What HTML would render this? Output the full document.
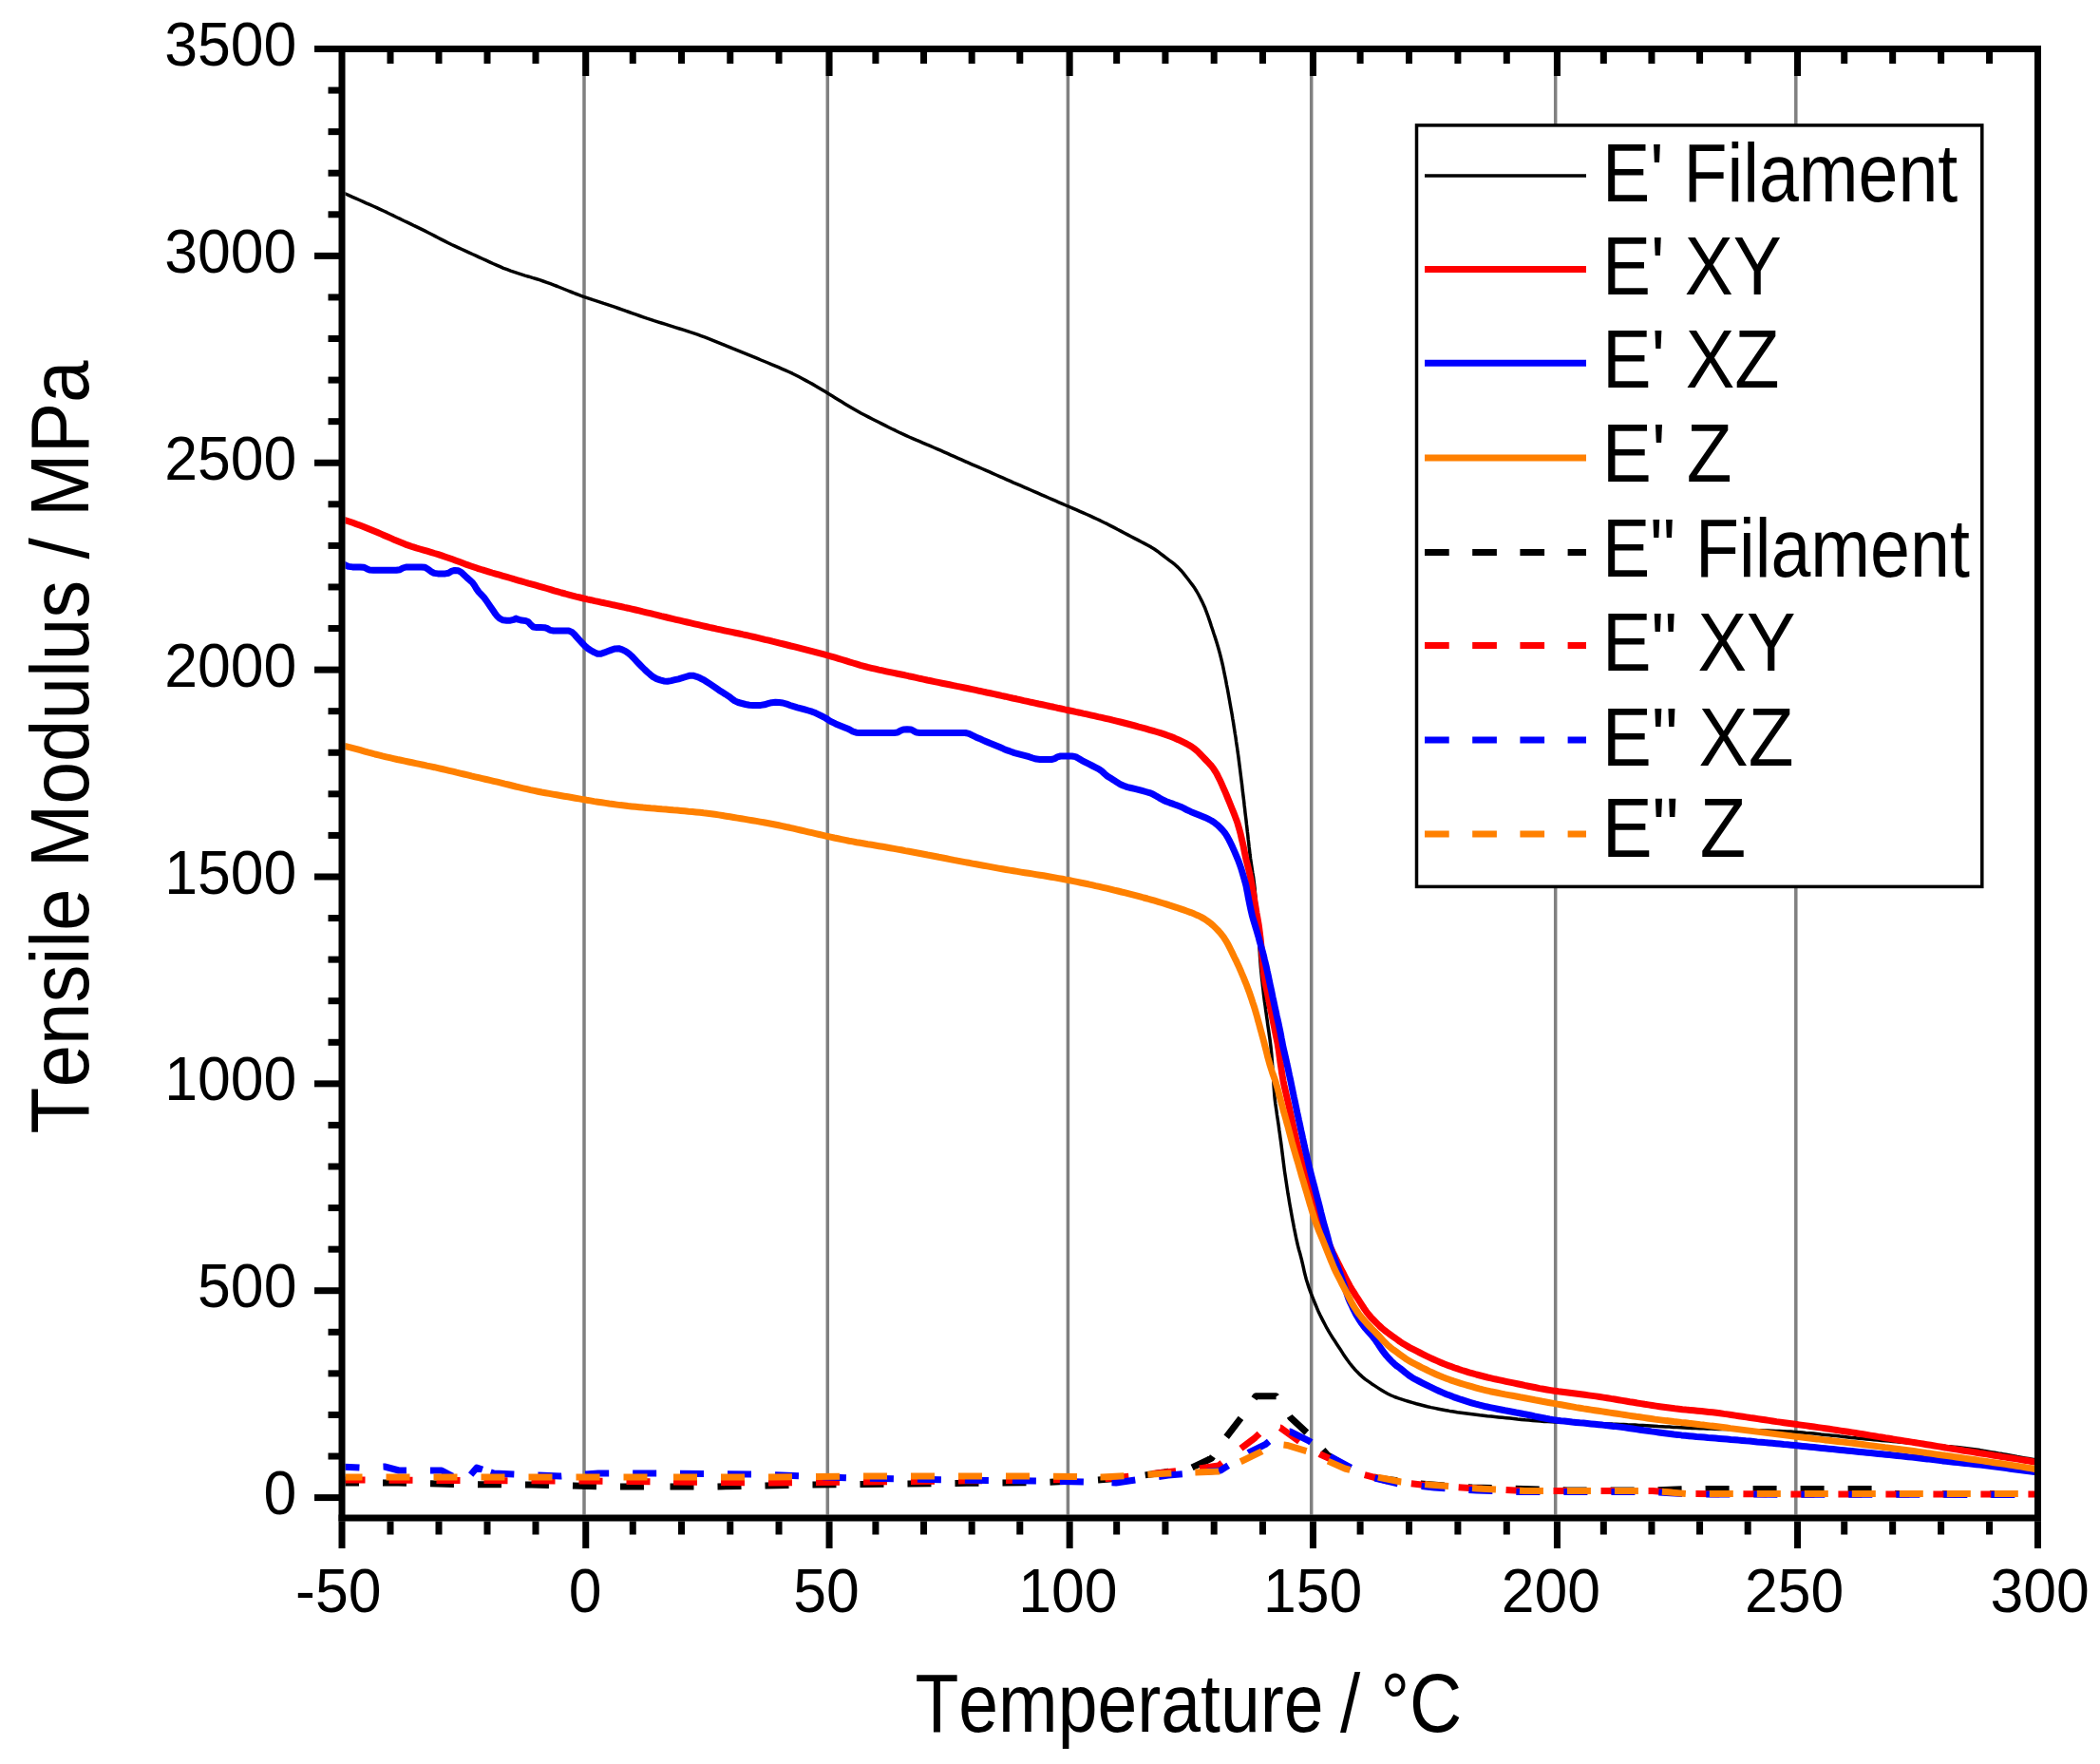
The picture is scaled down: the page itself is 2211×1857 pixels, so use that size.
<!DOCTYPE html>
<html><head><meta charset="utf-8"><title>Tensile Modulus vs Temperature</title>
<style>html,body{margin:0;padding:0;background:#fff;overflow:hidden}svg{display:block}text{font-kerning:none}</style>
</head><body>
<svg width="2211" height="1857" viewBox="0 0 2211 1857">
<rect x="0" y="0" width="2211" height="1857" fill="#fff"/>
<rect x="613.25" y="55" width="3.5" height="1539.5" fill="#808080"/>
<rect x="869.55" y="55" width="3.5" height="1539.5" fill="#808080"/>
<rect x="1122.65" y="55" width="3.5" height="1539.5" fill="#808080"/>
<rect x="1378.95" y="55" width="3.5" height="1539.5" fill="#808080"/>
<rect x="1635.95" y="55" width="3.5" height="1539.5" fill="#808080"/>
<rect x="1889.05" y="55" width="3.5" height="1539.5" fill="#808080"/>
<defs><clipPath id="pc"><rect x="363.5" y="55" width="1778.5" height="1539.5"/></clipPath></defs>
<g clip-path="url(#pc)" fill="none" stroke-linejoin="round" stroke-linecap="butt">
<polyline points="360.0,202.4 363.7,204.0 367.3,205.7 371.0,207.3 374.6,208.9 378.3,210.5 381.9,212.1 385.6,213.8 389.3,215.4 392.9,217.0 396.6,218.6 400.2,220.3 403.8,222.0 407.4,223.7 411.0,225.5 414.6,227.2 418.2,229.0 421.8,230.7 425.4,232.5 429.0,234.2 432.6,235.9 436.2,237.7 439.8,239.4 443.4,241.1 447.0,242.9 450.6,244.7 454.1,246.5 457.7,248.4 461.2,250.2 464.8,252.1 468.3,253.9 471.9,255.7 475.5,257.5 479.1,259.2 482.8,260.9 486.4,262.5 490.0,264.2 493.7,265.8 497.3,267.5 501.0,269.1 504.6,270.8 508.2,272.5 511.9,274.2 515.5,275.8 519.1,277.5 522.8,279.1 526.4,280.7 530.1,282.3 533.9,283.7 537.6,285.1 541.4,286.4 545.2,287.7 549.0,288.9 552.8,290.1 556.7,291.2 560.5,292.4 564.3,293.5 568.1,294.7 571.9,296.0 575.7,297.3 579.5,298.7 583.2,300.1 586.9,301.5 590.6,303.0 594.3,304.5 598.0,306.0 601.8,307.5 605.5,309.0 609.2,310.4 613.0,311.8 616.7,313.1 620.5,314.4 624.3,315.7 628.1,316.9 631.9,318.1 635.7,319.4 639.5,320.6 643.3,321.9 647.1,323.2 650.9,324.5 654.7,325.8 658.4,327.2 662.2,328.5 666.0,329.8 669.8,331.2 673.5,332.5 677.3,333.8 681.1,335.1 684.9,336.3 688.7,337.6 692.5,338.8 696.3,340.0 700.1,341.2 703.9,342.4 707.8,343.6 711.6,344.8 715.4,346.0 719.2,347.2 723.0,348.4 726.8,349.7 730.6,350.9 734.4,352.2 738.2,353.6 741.9,354.9 745.7,356.4 749.4,357.8 753.1,359.3 756.8,360.8 760.5,362.3 764.2,363.8 767.9,365.3 771.6,366.9 775.3,368.4 779.0,369.9 782.7,371.4 786.4,372.9 790.1,374.4 793.8,375.9 797.5,377.4 801.2,379.0 804.9,380.5 808.6,382.0 812.3,383.6 816.0,385.1 819.7,386.7 823.4,388.3 827.0,389.9 830.7,391.5 834.3,393.2 837.9,395.0 841.4,396.8 845.0,398.7 848.5,400.6 852.0,402.5 855.5,404.4 859.0,406.4 862.4,408.5 865.8,410.5 869.3,412.6 872.7,414.7 876.1,416.8 879.5,418.9 882.9,421.0 886.3,423.1 889.7,425.2 893.1,427.3 896.5,429.3 900.0,431.3 903.5,433.3 907.0,435.2 910.5,437.0 914.1,438.9 917.7,440.7 921.2,442.5 924.8,444.3 928.4,446.1 931.9,447.9 935.5,449.7 939.1,451.5 942.7,453.2 946.3,455.0 949.9,456.7 953.6,458.3 957.2,460.0 960.9,461.6 964.5,463.2 968.2,464.7 971.9,466.3 975.6,467.9 979.3,469.4 982.9,471.0 986.6,472.6 990.3,474.2 993.9,475.8 997.6,477.4 1001.2,479.1 1004.9,480.7 1008.6,482.3 1012.2,483.9 1015.9,485.6 1019.5,487.2 1023.2,488.8 1026.9,490.4 1030.5,491.9 1034.2,493.5 1037.9,495.1 1041.5,496.7 1045.2,498.4 1048.9,500.0 1052.5,501.6 1056.2,503.2 1059.8,504.8 1063.5,506.4 1067.1,508.1 1070.8,509.6 1074.5,511.2 1078.2,512.8 1081.8,514.4 1085.5,516.0 1089.2,517.6 1092.8,519.2 1096.5,520.8 1100.2,522.4 1103.8,524.0 1107.5,525.6 1111.2,527.2 1114.8,528.8 1118.5,530.4 1122.2,532.0 1125.9,533.5 1129.5,535.1 1133.2,536.7 1136.9,538.3 1140.5,539.9 1144.2,541.5 1147.9,543.1 1151.5,544.8 1155.1,546.5 1158.7,548.2 1162.3,550.0 1165.9,551.7 1169.5,553.6 1173.0,555.4 1176.5,557.3 1180.1,559.1 1183.6,561.0 1187.2,562.9 1190.7,564.7 1194.3,566.6 1197.8,568.4 1201.3,570.3 1204.9,572.1 1208.4,574.0 1211.9,575.9 1215.3,578.0 1218.5,580.2 1221.6,582.6 1224.8,585.0 1227.9,587.4 1231.1,589.8 1234.3,592.2 1237.4,594.7 1240.4,597.4 1243.1,600.2 1245.7,603.2 1248.2,606.3 1250.7,609.5 1253.1,612.7 1255.5,615.9 1257.8,619.1 1259.9,622.5 1261.9,626.0 1263.7,629.5 1265.5,633.1 1267.2,636.7 1268.8,640.3 1270.2,644.1 1271.6,647.8 1272.9,651.6 1274.2,655.4 1275.4,659.2 1276.7,663.0 1277.9,666.8 1279.2,670.6 1280.4,674.4 1281.6,678.2 1282.7,682.1 1283.8,685.9 1284.8,689.8 1285.8,693.7 1286.7,697.5 1287.6,701.4 1288.4,705.4 1289.2,709.3 1290.0,713.2 1290.8,717.1 1291.5,721.1 1292.3,725.0 1293.0,728.9 1293.7,732.8 1294.4,736.8 1295.1,740.7 1295.8,744.7 1296.5,748.6 1297.2,752.5 1297.8,756.5 1298.5,760.4 1299.1,764.4 1299.7,768.3 1300.3,772.3 1301.0,776.2 1301.5,780.2 1302.1,784.2 1302.7,788.1 1303.2,792.1 1303.8,796.0 1304.3,800.0 1304.8,804.0 1305.3,807.9 1305.8,811.9 1306.3,815.9 1306.8,819.9 1307.3,823.8 1307.8,827.8 1308.2,831.8 1308.7,835.7 1309.2,839.7 1309.7,843.7 1310.1,847.7 1310.6,851.6 1311.0,855.6 1311.5,859.6 1312.0,863.5 1312.4,867.5 1312.9,871.5 1313.3,875.5 1313.8,879.4 1314.2,883.4 1314.7,887.4 1315.1,891.4 1315.6,895.3 1316.0,899.3 1316.5,903.3 1317.1,907.2 1317.7,911.2 1318.3,915.2 1318.9,919.1 1319.6,923.0 1320.1,927.0 1320.6,931.0 1321.1,934.9 1321.4,938.9 1321.8,942.9 1322.1,946.9 1322.5,950.9 1322.8,954.9 1323.2,958.9 1323.5,962.8 1323.8,966.8 1324.2,970.8 1324.5,974.8 1324.7,978.8 1325.0,982.8 1325.3,986.8 1325.5,990.8 1325.8,994.8 1326.0,998.7 1326.3,1002.7 1326.5,1006.7 1326.8,1010.7 1327.1,1014.7 1327.4,1018.7 1327.8,1022.7 1328.2,1026.7 1328.6,1030.6 1329.1,1034.6 1329.5,1038.6 1330.0,1042.6 1330.4,1046.5 1330.9,1050.5 1331.4,1054.5 1332.0,1058.4 1332.5,1062.4 1333.1,1066.4 1333.6,1070.3 1334.2,1074.3 1334.7,1078.2 1335.3,1082.2 1335.9,1086.2 1336.4,1090.1 1337.0,1094.1 1337.5,1098.0 1338.0,1102.0 1338.4,1106.0 1338.8,1110.0 1339.1,1114.0 1339.4,1117.9 1339.7,1121.9 1340.0,1125.9 1340.3,1129.9 1340.5,1133.9 1340.8,1137.9 1341.0,1141.9 1341.3,1145.9 1341.6,1149.9 1341.9,1153.8 1342.3,1157.8 1342.8,1161.8 1343.4,1165.7 1344.0,1169.7 1344.5,1173.7 1345.1,1177.6 1345.7,1181.6 1346.3,1185.5 1346.8,1189.5 1347.4,1193.5 1347.9,1197.4 1348.5,1201.4 1349.0,1205.3 1349.5,1209.3 1350.0,1213.3 1350.5,1217.2 1351.0,1221.2 1351.5,1225.2 1352.0,1229.2 1352.5,1233.1 1353.1,1237.1 1353.7,1241.0 1354.3,1245.0 1354.9,1248.9 1355.5,1252.9 1356.1,1256.9 1356.8,1260.8 1357.4,1264.7 1358.1,1268.7 1358.8,1272.6 1359.5,1276.6 1360.2,1280.5 1360.9,1284.4 1361.7,1288.4 1362.4,1292.3 1363.2,1296.2 1364.0,1300.1 1364.8,1304.0 1365.7,1308.0 1366.6,1311.8 1367.6,1315.7 1368.7,1319.6 1369.7,1323.4 1370.7,1327.3 1371.6,1331.2 1372.5,1335.1 1373.3,1339.0 1374.3,1342.9 1375.3,1346.7 1376.5,1350.6 1377.7,1354.4 1379.0,1358.1 1380.4,1361.9 1381.9,1365.6 1383.4,1369.3 1384.9,1373.0 1386.4,1376.7 1388.0,1380.4 1389.7,1384.0 1391.5,1387.6 1393.3,1391.1 1395.2,1394.7 1397.0,1398.2 1399.0,1401.7 1401.1,1405.1 1403.2,1408.5 1405.4,1411.8 1407.6,1415.2 1409.8,1418.5 1412.0,1421.8 1414.1,1425.2 1416.3,1428.5 1418.6,1431.8 1421.0,1435.0 1423.5,1438.1 1426.1,1441.2 1428.8,1444.1 1431.6,1446.9 1434.6,1449.6 1437.6,1452.1 1440.9,1454.4 1444.1,1456.7 1447.5,1458.9 1450.9,1461.1 1454.2,1463.2 1457.6,1465.3 1461.1,1467.2 1464.7,1469.0 1468.3,1470.5 1472.1,1471.9 1475.9,1473.1 1479.7,1474.3 1483.5,1475.5 1487.4,1476.6 1491.2,1477.7 1495.1,1478.7 1498.9,1479.7 1502.8,1480.7 1506.7,1481.6 1510.6,1482.4 1514.5,1483.2 1518.5,1484.0 1522.4,1484.7 1526.3,1485.4 1530.3,1486.0 1534.2,1486.7 1538.2,1487.2 1542.2,1487.8 1546.1,1488.3 1550.1,1488.8 1554.1,1489.3 1558.0,1489.8 1562.0,1490.2 1566.0,1490.7 1570.0,1491.1 1573.9,1491.5 1577.9,1491.9 1581.9,1492.3 1585.9,1492.7 1589.9,1493.1 1593.8,1493.5 1597.8,1494.0 1601.8,1494.4 1605.8,1494.8 1609.8,1495.1 1613.7,1495.5 1617.7,1495.8 1621.7,1496.1 1625.7,1496.4 1629.7,1496.6 1633.7,1496.8 1637.7,1496.9 1641.7,1497.1 1645.7,1497.2 1649.7,1497.4 1653.7,1497.5 1657.7,1497.7 1661.7,1497.8 1665.7,1497.9 1669.7,1498.1 1673.7,1498.2 1677.7,1498.4 1681.7,1498.5 1685.7,1498.7 1689.7,1498.8 1693.7,1498.9 1697.7,1499.1 1701.7,1499.2 1705.7,1499.4 1709.6,1499.6 1713.6,1499.8 1717.6,1499.9 1721.6,1500.1 1725.6,1500.4 1729.6,1500.6 1733.6,1500.8 1737.6,1501.0 1741.6,1501.2 1745.6,1501.5 1749.6,1501.7 1753.6,1501.9 1757.6,1502.1 1761.6,1502.4 1765.6,1502.6 1769.6,1502.8 1773.6,1503.0 1777.6,1503.2 1781.5,1503.4 1785.5,1503.5 1789.5,1503.7 1793.5,1503.8 1797.5,1504.0 1801.5,1504.1 1805.5,1504.2 1809.5,1504.4 1813.5,1504.5 1817.5,1504.6 1821.5,1504.8 1825.5,1504.9 1829.5,1505.0 1833.5,1505.2 1837.5,1505.3 1841.5,1505.4 1845.5,1505.6 1849.5,1505.7 1853.5,1505.8 1857.5,1506.0 1861.5,1506.1 1865.5,1506.2 1869.5,1506.4 1873.5,1506.5 1877.5,1506.7 1881.5,1506.9 1885.5,1507.1 1889.5,1507.4 1893.5,1507.7 1897.4,1508.0 1901.4,1508.4 1905.4,1508.7 1909.4,1509.1 1913.4,1509.5 1917.3,1510.0 1921.3,1510.4 1925.3,1510.8 1929.3,1511.2 1933.3,1511.6 1937.2,1512.1 1941.2,1512.5 1945.2,1512.9 1949.2,1513.4 1953.1,1513.8 1957.1,1514.2 1961.1,1514.6 1965.1,1515.0 1969.1,1515.3 1973.1,1515.7 1977.0,1516.1 1981.0,1516.4 1985.0,1516.8 1989.0,1517.1 1993.0,1517.5 1997.0,1517.8 2000.9,1518.2 2004.9,1518.5 2008.9,1518.9 2012.9,1519.3 2016.9,1519.6 2020.9,1520.0 2024.8,1520.3 2028.8,1520.7 2032.8,1521.0 2036.8,1521.4 2040.8,1521.7 2044.8,1522.1 2048.7,1522.5 2052.7,1522.8 2056.7,1523.2 2060.7,1523.6 2064.7,1524.0 2068.7,1524.4 2072.6,1524.9 2076.6,1525.4 2080.5,1526.0 2084.5,1526.6 2088.4,1527.3 2092.4,1527.9 2096.3,1528.6 2100.3,1529.3 2104.2,1530.0 2108.2,1530.6 2112.1,1531.3 2116.0,1532.0 2120.0,1532.7 2123.9,1533.5 2127.8,1534.2 2131.8,1534.9 2135.7,1535.5 2139.6,1536.2 2143.4,1536.8 2145.0,1537.0" stroke="#000" stroke-width="3.5"/>
<polyline points="360.0,546.7 363.8,547.8 367.6,549.0 371.4,550.3 375.2,551.7 378.9,553.1 382.7,554.5 386.4,556.0 390.1,557.5 393.8,559.0 397.5,560.5 401.2,562.1 404.8,563.7 408.5,565.3 412.2,566.9 415.8,568.6 419.5,570.1 423.2,571.6 426.9,573.1 430.7,574.4 434.5,575.7 438.3,576.9 442.1,578.0 446.0,579.1 449.8,580.2 453.7,581.3 457.5,582.5 461.3,583.6 465.1,584.9 468.9,586.2 472.7,587.5 476.4,588.8 480.2,590.2 483.9,591.6 487.7,593.0 491.4,594.4 495.2,595.7 499.0,597.0 502.8,598.3 506.6,599.5 510.4,600.7 514.3,601.8 518.1,603.0 521.9,604.1 525.8,605.2 529.6,606.3 533.5,607.4 537.3,608.5 541.1,609.7 545.0,610.8 548.8,611.9 552.7,613.0 556.5,614.1 560.4,615.1 564.2,616.2 568.1,617.3 571.9,618.4 575.8,619.5 579.6,620.6 583.4,621.8 587.3,622.9 591.1,624.0 595.0,625.0 598.9,626.1 602.7,627.1 606.6,628.1 610.5,629.0 614.4,630.0 618.3,630.9 622.2,631.7 626.1,632.6 630.0,633.4 633.9,634.3 637.8,635.1 641.7,635.9 645.6,636.8 649.5,637.6 653.5,638.5 657.4,639.4 661.3,640.2 665.2,641.1 669.1,642.0 673.0,642.9 676.8,643.9 680.7,644.8 684.6,645.7 688.5,646.7 692.4,647.6 696.3,648.6 700.2,649.5 704.1,650.5 707.9,651.4 711.8,652.3 715.7,653.2 719.6,654.1 723.5,655.0 727.4,655.9 731.3,656.8 735.2,657.7 739.1,658.6 743.0,659.5 746.9,660.4 750.8,661.2 754.7,662.1 758.6,662.9 762.6,663.8 766.5,664.6 770.4,665.4 774.3,666.2 778.2,667.0 782.1,667.9 786.0,668.7 789.9,669.6 793.8,670.5 797.7,671.4 801.6,672.3 805.5,673.3 809.4,674.2 813.3,675.2 817.2,676.1 821.1,677.1 824.9,678.0 828.8,679.0 832.7,680.0 836.6,680.9 840.5,681.9 844.3,682.9 848.2,683.9 852.1,684.9 856.0,685.9 859.8,686.9 863.7,687.9 867.6,688.9 871.4,690.0 875.3,691.1 879.1,692.2 882.9,693.3 886.8,694.5 890.6,695.7 894.4,696.9 898.2,698.0 902.1,699.2 905.9,700.3 909.8,701.3 913.6,702.4 917.5,703.3 921.4,704.2 925.3,705.1 929.2,705.9 933.2,706.8 937.1,707.6 941.0,708.4 944.9,709.2 948.8,710.0 952.7,710.8 956.6,711.7 960.5,712.5 964.5,713.4 968.4,714.3 972.3,715.1 976.2,716.0 980.1,716.8 984.0,717.6 987.9,718.4 991.8,719.2 995.8,720.0 999.7,720.8 1003.6,721.6 1007.5,722.4 1011.4,723.1 1015.4,724.0 1019.3,724.8 1023.2,725.6 1027.1,726.4 1031.0,727.3 1034.9,728.1 1038.8,729.0 1042.7,729.8 1046.7,730.7 1050.6,731.5 1054.5,732.4 1058.4,733.2 1062.3,734.1 1066.2,735.0 1070.1,735.8 1074.0,736.7 1077.9,737.6 1081.8,738.4 1085.7,739.3 1089.6,740.1 1093.5,741.0 1097.5,741.8 1101.4,742.6 1105.3,743.5 1109.2,744.3 1113.1,745.2 1117.0,746.0 1120.9,746.9 1124.8,747.7 1128.7,748.5 1132.6,749.4 1136.6,750.2 1140.5,751.1 1144.4,751.9 1148.3,752.8 1152.2,753.7 1156.1,754.6 1160.0,755.4 1163.9,756.3 1167.8,757.2 1171.7,758.2 1175.6,759.1 1179.4,760.0 1183.3,761.0 1187.2,762.0 1191.1,763.0 1194.9,764.0 1198.8,765.1 1202.7,766.1 1206.5,767.2 1210.3,768.3 1214.2,769.4 1218.0,770.5 1221.9,771.7 1225.7,772.9 1229.4,774.2 1233.1,775.6 1236.8,777.1 1240.5,778.7 1244.1,780.4 1247.7,782.1 1251.2,784.0 1254.6,786.0 1257.8,788.3 1260.8,790.9 1263.6,793.7 1266.4,796.6 1269.1,799.5 1271.9,802.4 1274.6,805.3 1277.1,808.4 1279.3,811.7 1281.3,815.1 1283.1,818.7 1284.9,822.3 1286.5,825.9 1288.1,829.6 1289.7,833.2 1291.3,836.9 1292.8,840.6 1294.3,844.3 1295.8,848.0 1297.3,851.7 1298.8,855.4 1300.3,859.2 1301.7,862.9 1303.0,866.7 1304.1,870.5 1305.2,874.4 1306.2,878.2 1307.1,882.1 1308.0,886.0 1308.9,889.9 1309.7,893.8 1310.5,897.8 1311.3,901.7 1312.2,905.6 1313.2,909.4 1314.2,913.3 1315.1,917.2 1316.0,921.1 1316.8,925.0 1317.5,928.9 1318.2,932.9 1318.9,936.8 1319.6,940.8 1320.3,944.7 1320.9,948.6 1321.6,952.6 1322.3,956.5 1322.9,960.5 1323.6,964.4 1324.3,968.4 1325.0,972.3 1325.6,976.3 1326.1,980.2 1326.6,984.2 1327.1,988.2 1327.5,992.1 1327.9,996.1 1328.3,1000.1 1328.7,1004.1 1329.0,1008.1 1329.4,1012.0 1329.7,1016.0 1330.1,1020.0 1330.5,1024.0 1331.0,1028.0 1331.6,1031.9 1332.3,1035.8 1333.1,1039.7 1334.0,1043.7 1334.8,1047.6 1335.6,1051.5 1336.4,1055.4 1337.2,1059.3 1338.0,1063.2 1338.8,1067.2 1339.6,1071.1 1340.3,1075.0 1341.1,1078.9 1341.9,1082.9 1342.7,1086.8 1343.5,1090.7 1344.3,1094.6 1345.1,1098.5 1345.7,1102.5 1346.4,1106.4 1346.9,1110.4 1347.5,1114.3 1348.0,1118.3 1348.6,1122.3 1349.2,1126.2 1349.7,1130.2 1350.4,1134.1 1351.1,1138.1 1351.9,1142.0 1352.8,1145.9 1353.7,1149.8 1354.6,1153.7 1355.5,1157.6 1356.4,1161.5 1357.3,1165.4 1358.1,1169.3 1359.0,1173.2 1359.8,1177.1 1360.7,1181.0 1361.5,1184.9 1362.4,1188.8 1363.2,1192.7 1364.1,1196.6 1364.9,1200.5 1365.8,1204.4 1366.8,1208.3 1367.8,1212.2 1368.8,1216.1 1369.8,1219.9 1370.8,1223.8 1371.9,1227.6 1373.0,1231.5 1374.2,1235.3 1375.3,1239.2 1376.3,1243.0 1377.4,1246.9 1378.5,1250.7 1379.6,1254.6 1380.8,1258.4 1381.9,1262.2 1383.1,1266.0 1384.3,1269.9 1385.5,1273.7 1386.7,1277.5 1388.0,1281.3 1389.3,1285.0 1390.7,1288.8 1392.2,1292.5 1393.7,1296.2 1395.2,1299.9 1396.8,1303.6 1398.3,1307.3 1399.9,1310.9 1401.6,1314.6 1403.2,1318.2 1405.0,1321.8 1406.7,1325.4 1408.5,1329.0 1410.3,1332.6 1412.1,1336.2 1413.9,1339.7 1415.7,1343.3 1417.5,1346.8 1419.4,1350.4 1421.3,1353.9 1423.3,1357.3 1425.5,1360.7 1427.6,1364.1 1429.8,1367.4 1432.0,1370.8 1434.1,1374.1 1436.3,1377.5 1438.6,1380.8 1441.0,1383.9 1443.6,1386.9 1446.4,1389.7 1449.2,1392.6 1452.0,1395.4 1454.9,1398.1 1457.9,1400.6 1461.1,1403.0 1464.3,1405.3 1467.5,1407.7 1470.8,1410.0 1474.0,1412.4 1477.3,1414.6 1480.7,1416.6 1484.2,1418.6 1487.8,1420.4 1491.3,1422.2 1494.9,1424.0 1498.5,1425.8 1502.1,1427.6 1505.7,1429.3 1509.3,1431.0 1513.0,1432.6 1516.6,1434.2 1520.3,1435.8 1524.1,1437.2 1527.8,1438.6 1531.6,1440.0 1535.4,1441.2 1539.2,1442.5 1543.0,1443.6 1546.8,1444.8 1550.7,1445.9 1554.5,1447.0 1558.4,1448.0 1562.2,1449.0 1566.1,1450.0 1570.0,1450.9 1573.9,1451.8 1577.8,1452.6 1581.7,1453.4 1585.7,1454.3 1589.6,1455.1 1593.5,1455.9 1597.4,1456.7 1601.3,1457.5 1605.2,1458.4 1609.1,1459.2 1613.1,1460.0 1617.0,1460.8 1620.9,1461.6 1624.8,1462.3 1628.8,1463.0 1632.7,1463.6 1636.7,1464.2 1640.6,1464.8 1644.6,1465.3 1648.6,1465.8 1652.5,1466.3 1656.5,1466.8 1660.5,1467.3 1664.4,1467.8 1668.4,1468.3 1672.4,1468.9 1676.3,1469.4 1680.3,1469.9 1684.3,1470.5 1688.2,1471.1 1692.2,1471.7 1696.1,1472.4 1700.1,1473.0 1704.0,1473.7 1708.0,1474.4 1711.9,1475.0 1715.8,1475.7 1719.8,1476.3 1723.7,1477.0 1727.7,1477.6 1731.6,1478.3 1735.6,1478.9 1739.5,1479.5 1743.5,1480.1 1747.5,1480.7 1751.4,1481.2 1755.4,1481.8 1759.3,1482.3 1763.3,1482.8 1767.3,1483.2 1771.3,1483.7 1775.2,1484.1 1779.2,1484.4 1783.2,1484.8 1787.2,1485.2 1791.2,1485.6 1795.2,1486.0 1799.1,1486.4 1803.1,1486.8 1807.1,1487.3 1811.0,1487.8 1815.0,1488.4 1819.0,1488.9 1822.9,1489.5 1826.9,1490.1 1830.8,1490.7 1834.8,1491.3 1838.7,1491.9 1842.7,1492.5 1846.7,1493.0 1850.6,1493.6 1854.6,1494.2 1858.5,1494.8 1862.5,1495.4 1866.4,1496.0 1870.4,1496.6 1874.4,1497.1 1878.3,1497.7 1882.3,1498.3 1886.2,1498.8 1890.2,1499.3 1894.2,1499.9 1898.1,1500.4 1902.1,1500.9 1906.1,1501.5 1910.0,1502.0 1914.0,1502.6 1917.9,1503.1 1921.9,1503.7 1925.9,1504.3 1929.8,1504.9 1933.8,1505.5 1937.7,1506.1 1941.7,1506.7 1945.6,1507.3 1949.6,1507.9 1953.5,1508.5 1957.5,1509.2 1961.4,1509.8 1965.4,1510.5 1969.3,1511.1 1973.3,1511.7 1977.2,1512.4 1981.2,1513.0 1985.1,1513.7 1989.1,1514.3 1993.0,1515.0 1997.0,1515.6 2000.9,1516.2 2004.9,1516.9 2008.8,1517.5 2012.8,1518.1 2016.7,1518.7 2020.7,1519.4 2024.6,1520.0 2028.6,1520.7 2032.5,1521.3 2036.5,1522.0 2040.4,1522.6 2044.3,1523.3 2048.3,1524.0 2052.2,1524.6 2056.2,1525.3 2060.1,1525.9 2064.1,1526.5 2068.0,1527.2 2072.0,1527.8 2075.9,1528.4 2079.9,1529.0 2083.8,1529.7 2087.8,1530.3 2091.7,1530.9 2095.7,1531.5 2099.6,1532.2 2103.6,1532.8 2107.5,1533.5 2111.5,1534.1 2115.4,1534.7 2119.4,1535.3 2123.3,1535.9 2127.3,1536.6 2131.2,1537.2 2135.2,1537.8 2139.1,1538.5 2143.1,1539.1 2145.0,1539.5" stroke="#f00" stroke-width="7"/>
<polyline points="360.0,593.1 363.6,594.9 367.2,596.4 371.1,596.9 375.1,596.9 379.1,596.9 382.9,597.2 386.1,598.7 389.3,600.1 393.2,600.3 397.2,600.3 401.2,600.3 405.2,600.3 409.2,600.3 413.2,600.3 417.2,600.3 421.0,599.7 424.1,598.0 427.6,597.0 431.6,596.9 435.6,596.9 439.6,596.9 443.6,596.9 447.4,597.3 450.7,599.2 453.7,601.6 457.1,603.4 461.0,603.9 465.0,603.9 468.9,603.9 472.5,603.2 475.3,601.3 478.7,600.4 482.5,600.7 485.7,602.5 488.6,605.3 491.5,608.0 494.5,610.6 497.4,613.3 499.7,616.5 501.7,619.9 504.0,623.1 506.8,626.0 509.5,628.9 511.9,632.1 514.1,635.4 516.4,638.7 518.7,642.0 520.9,645.3 523.3,648.5 526.2,651.2 529.6,652.8 533.4,653.2 537.4,653.2 540.9,652.4 543.3,651.1 545.7,652.2 549.2,653.1 553.1,653.4 556.3,654.8 558.8,657.7 561.5,660.0 565.2,660.6 569.2,660.6 573.2,660.7 576.5,661.7 579.2,663.4 582.8,664.0 586.8,664.0 590.8,664.0 594.8,664.0 598.8,664.1 602.2,665.4 605.0,668.1 607.6,671.1 610.3,674.1 613.0,677.0 615.7,679.9 618.7,682.5 622.1,684.7 625.5,686.6 629.1,688.2 632.7,688.2 636.4,686.9 640.1,685.5 643.9,684.1 647.7,682.9 651.4,682.7 655.1,683.9 658.7,685.6 661.9,687.8 664.9,690.5 667.7,693.4 670.4,696.3 673.2,699.2 676.0,702.1 678.8,704.9 681.7,707.6 684.7,710.2 687.8,712.7 691.3,714.6 695.0,715.8 698.9,716.9 702.7,717.3 706.6,716.6 710.5,715.7 714.4,714.8 718.2,713.7 722.0,712.5 725.8,711.3 729.6,711.2 733.4,712.3 737.1,713.8 740.6,715.6 744.0,717.7 747.4,719.9 750.7,722.1 754.0,724.4 757.2,726.7 760.6,728.8 764.0,730.9 767.3,733.1 770.5,735.6 773.7,737.9 777.3,739.5 781.1,740.5 785.0,741.5 788.9,742.3 792.9,742.6 796.9,742.6 800.9,742.4 804.8,741.8 808.6,740.7 812.5,739.7 816.4,739.3 820.4,739.6 824.3,740.0 828.1,741.1 831.8,742.5 835.6,743.7 839.5,744.8 843.4,745.8 847.2,746.9 851.0,748.0 854.9,749.2 858.6,750.6 862.2,752.3 865.8,754.1 869.3,756.0 872.6,758.2 876.1,760.2 879.7,761.9 883.4,763.4 887.1,764.9 890.8,766.4 894.4,768.0 897.8,770.0 901.5,771.2 905.4,771.4 909.4,771.4 913.4,771.4 917.4,771.4 921.4,771.4 925.4,771.4 929.4,771.4 933.4,771.4 937.4,771.4 941.4,771.4 945.1,771.0 948.0,769.2 951.2,767.9 955.1,767.7 958.9,767.9 961.9,769.4 964.7,771.1 968.5,771.4 972.5,771.4 976.5,771.4 980.5,771.4 984.5,771.4 988.5,771.4 992.5,771.4 996.5,771.4 1000.5,771.4 1004.5,771.4 1008.5,771.4 1012.5,771.4 1016.4,771.5 1020.2,772.4 1023.8,774.2 1027.4,775.9 1031.1,777.4 1034.7,779.1 1038.4,780.7 1042.1,782.3 1045.8,783.8 1049.5,785.3 1053.2,786.8 1056.8,788.4 1060.5,789.9 1064.3,791.3 1068.1,792.6 1071.9,793.6 1075.8,794.6 1079.7,795.6 1083.5,796.7 1087.3,798.0 1091.1,799.1 1095.0,799.5 1099.0,799.5 1103.0,799.5 1107.0,799.5 1110.5,798.7 1113.2,796.8 1116.6,796.0 1120.6,796.0 1124.6,796.0 1128.6,796.0 1132.4,796.6 1135.7,798.5 1139.1,800.6 1142.6,802.4 1146.2,804.2 1149.8,806.0 1153.4,807.8 1156.9,809.6 1160.1,811.9 1163.0,814.6 1166.1,817.2 1169.5,819.3 1172.9,821.4 1176.1,823.6 1179.6,825.7 1183.2,827.3 1187.0,828.6 1190.8,829.5 1194.7,830.4 1198.6,831.3 1202.5,832.4 1206.3,833.5 1210.2,834.6 1213.9,836.1 1217.3,838.0 1220.8,840.1 1224.2,842.0 1227.9,843.7 1231.6,845.1 1235.4,846.4 1239.1,847.8 1242.9,849.2 1246.5,850.9 1250.0,852.8 1253.6,854.4 1257.3,855.9 1261.1,857.4 1264.8,858.9 1268.4,860.4 1272.1,862.2 1275.6,864.0 1278.9,866.2 1282.1,868.7 1284.9,871.5 1287.6,874.4 1290.1,877.5 1292.2,880.9 1294.1,884.4 1295.9,888.0 1297.6,891.6 1299.2,895.2 1300.8,898.9 1302.4,902.6 1303.9,906.3 1305.3,910.1 1306.6,913.8 1307.8,917.7 1308.9,921.5 1310.0,925.3 1311.1,929.2 1312.1,933.1 1312.8,937.0 1313.6,940.9 1314.3,944.8 1315.1,948.8 1315.9,952.7 1316.7,956.6 1317.6,960.5 1318.5,964.4 1319.6,968.2 1320.8,972.1 1321.9,975.9 1323.1,979.7 1324.2,983.6 1325.3,987.4 1326.3,991.3 1327.4,995.1 1328.5,999.0 1329.6,1002.8 1330.6,1006.7 1331.5,1010.6 1332.5,1014.5 1333.4,1018.4 1334.2,1022.3 1335.1,1026.2 1335.9,1030.1 1336.7,1034.0 1337.5,1037.9 1338.4,1041.8 1339.2,1045.7 1340.0,1049.7 1340.9,1053.6 1341.7,1057.5 1342.5,1061.4 1343.4,1065.3 1344.2,1069.2 1345.1,1073.1 1346.0,1077.0 1346.8,1080.9 1347.6,1084.8 1348.4,1088.8 1349.1,1092.7 1349.9,1096.6 1350.6,1100.6 1351.5,1104.5 1352.4,1108.4 1353.3,1112.3 1354.2,1116.2 1355.0,1120.1 1355.9,1124.0 1356.7,1127.9 1357.5,1131.8 1358.4,1135.7 1359.2,1139.6 1360.0,1143.6 1360.8,1147.5 1361.6,1151.4 1362.4,1155.3 1363.3,1159.2 1364.1,1163.1 1364.9,1167.0 1365.7,1171.0 1366.6,1174.9 1367.4,1178.8 1368.3,1182.7 1369.1,1186.6 1369.9,1190.5 1370.8,1194.4 1371.6,1198.3 1372.5,1202.2 1373.3,1206.1 1374.2,1210.0 1375.1,1213.9 1376.0,1217.8 1376.9,1221.7 1377.8,1225.6 1378.7,1229.5 1379.7,1233.4 1380.7,1237.3 1381.7,1241.2 1382.7,1245.0 1383.8,1248.9 1384.8,1252.8 1385.8,1256.6 1386.8,1260.5 1387.8,1264.4 1388.8,1268.2 1389.8,1272.1 1390.7,1276.0 1391.7,1279.9 1392.7,1283.8 1393.7,1287.6 1394.8,1291.5 1395.9,1295.3 1397.0,1299.2 1398.0,1303.0 1399.0,1306.9 1400.0,1310.8 1401.2,1314.6 1402.5,1318.4 1403.9,1322.1 1405.3,1325.9 1406.7,1329.6 1408.2,1333.3 1409.6,1337.1 1411.0,1340.8 1412.4,1344.6 1413.7,1348.4 1415.0,1352.1 1416.2,1355.9 1417.4,1359.8 1418.6,1363.6 1419.9,1367.4 1421.5,1371.0 1423.2,1374.6 1424.9,1378.2 1426.7,1381.8 1428.6,1385.3 1430.7,1388.8 1432.9,1392.1 1435.2,1395.3 1437.7,1398.5 1440.3,1401.5 1443.0,1404.5 1445.6,1407.5 1448.1,1410.7 1450.3,1413.9 1452.5,1417.3 1454.7,1420.6 1457.1,1423.8 1459.6,1427.0 1462.2,1430.0 1465.0,1432.9 1467.8,1435.6 1470.9,1438.2 1474.2,1440.5 1477.3,1443.0 1480.4,1445.6 1483.5,1448.0 1486.8,1450.2 1490.3,1452.2 1493.9,1454.0 1497.4,1455.8 1501.0,1457.6 1504.6,1459.4 1508.2,1461.1 1511.8,1462.8 1515.4,1464.5 1519.1,1466.1 1522.8,1467.7 1526.5,1469.1 1530.2,1470.6 1534.0,1471.9 1537.8,1473.2 1541.6,1474.4 1545.4,1475.6 1549.3,1476.8 1553.1,1477.9 1557.0,1478.9 1560.9,1479.8 1564.7,1480.8 1568.7,1481.6 1572.6,1482.4 1576.5,1483.2 1580.4,1484.0 1584.3,1484.8 1588.3,1485.5 1592.2,1486.2 1596.1,1487.0 1600.1,1487.7 1604.0,1488.5 1607.9,1489.2 1611.8,1490.0 1615.7,1490.9 1619.7,1491.7 1623.6,1492.5 1627.5,1493.3 1631.4,1494.0 1635.4,1494.6 1639.3,1495.2 1643.3,1495.7 1647.3,1496.1 1651.3,1496.5 1655.2,1497.0 1659.2,1497.4 1663.2,1497.8 1667.2,1498.1 1671.2,1498.5 1675.1,1498.9 1679.1,1499.3 1683.1,1499.7 1687.1,1500.1 1691.1,1500.6 1695.0,1501.0 1699.0,1501.4 1703.0,1501.9 1707.0,1502.4 1710.9,1502.9 1714.9,1503.5 1718.8,1504.0 1722.8,1504.6 1726.8,1505.2 1730.7,1505.8 1734.7,1506.3 1738.6,1506.9 1742.6,1507.4 1746.6,1508.0 1750.5,1508.5 1754.5,1509.0 1758.5,1509.5 1762.4,1510.0 1766.4,1510.4 1770.4,1510.9 1774.4,1511.3 1778.3,1511.7 1782.3,1512.1 1786.3,1512.5 1790.3,1512.8 1794.3,1513.1 1798.3,1513.5 1802.3,1513.8 1806.2,1514.1 1810.2,1514.4 1814.2,1514.7 1818.2,1515.0 1822.2,1515.4 1826.2,1515.7 1830.2,1516.1 1834.1,1516.4 1838.1,1516.8 1842.1,1517.1 1846.1,1517.5 1850.1,1517.9 1854.1,1518.2 1858.0,1518.6 1862.0,1518.9 1866.0,1519.3 1870.0,1519.7 1874.0,1520.1 1878.0,1520.5 1881.9,1520.8 1885.9,1521.2 1889.9,1521.6 1893.9,1522.0 1897.9,1522.4 1901.8,1522.8 1905.8,1523.2 1909.8,1523.6 1913.8,1524.0 1917.8,1524.4 1921.7,1524.8 1925.7,1525.2 1929.7,1525.6 1933.7,1526.0 1937.7,1526.4 1941.6,1526.8 1945.6,1527.2 1949.6,1527.6 1953.6,1528.0 1957.6,1528.4 1961.5,1528.8 1965.5,1529.2 1969.5,1529.6 1973.5,1530.0 1977.5,1530.4 1981.4,1530.8 1985.4,1531.2 1989.4,1531.6 1993.4,1532.0 1997.4,1532.4 2001.3,1532.8 2005.3,1533.2 2009.3,1533.7 2013.3,1534.1 2017.3,1534.5 2021.2,1535.0 2025.2,1535.5 2029.2,1535.9 2033.1,1536.4 2037.1,1536.9 2041.1,1537.4 2045.1,1537.9 2049.0,1538.3 2053.0,1538.8 2057.0,1539.2 2061.0,1539.6 2064.9,1540.0 2068.9,1540.4 2072.9,1540.8 2076.9,1541.3 2080.8,1541.7 2084.8,1542.1 2088.8,1542.6 2092.8,1543.1 2096.7,1543.5 2100.7,1544.1 2104.7,1544.6 2108.6,1545.1 2112.6,1545.6 2116.6,1546.2 2120.5,1546.7 2124.5,1547.2 2128.5,1547.7 2132.4,1548.3 2136.4,1548.8 2140.3,1549.3 2143.9,1549.8 2145.0,1550.0" stroke="#00f" stroke-width="7"/>
<polyline points="360.0,785.5 364.0,785.8 367.9,786.6 371.7,787.6 375.6,788.6 379.4,789.7 383.3,790.8 387.1,791.9 391.0,792.9 394.9,794.0 398.7,794.9 402.6,795.9 406.5,796.8 410.4,797.7 414.3,798.6 418.2,799.5 422.1,800.3 426.0,801.1 430.0,802.0 433.9,802.8 437.8,803.6 441.7,804.4 445.6,805.2 449.5,806.1 453.4,806.9 457.4,807.7 461.3,808.6 465.2,809.5 469.1,810.4 473.0,811.3 476.8,812.2 480.7,813.2 484.6,814.1 488.5,815.0 492.4,815.9 496.3,816.9 500.2,817.8 504.1,818.7 508.0,819.6 511.9,820.5 515.8,821.4 519.7,822.3 523.6,823.2 527.5,824.1 531.3,825.1 535.2,826.0 539.1,827.0 543.0,828.0 546.9,828.9 550.8,829.8 554.7,830.7 558.6,831.6 562.5,832.4 566.4,833.2 570.3,834.0 574.3,834.7 578.2,835.4 582.1,836.1 586.1,836.8 590.0,837.5 594.0,838.2 597.9,838.8 601.9,839.5 605.8,840.2 609.7,840.9 613.7,841.6 617.6,842.3 621.6,842.9 625.5,843.6 629.5,844.2 633.4,844.8 637.4,845.4 641.3,846.0 645.3,846.5 649.3,847.1 653.2,847.6 657.2,848.0 661.2,848.5 665.1,848.9 669.1,849.3 673.1,849.7 677.1,850.1 681.1,850.4 685.1,850.8 689.0,851.1 693.0,851.4 697.0,851.8 701.0,852.1 705.0,852.4 709.0,852.8 713.0,853.1 716.9,853.4 720.9,853.8 724.9,854.2 728.9,854.5 732.9,854.9 736.9,855.3 740.8,855.8 744.8,856.2 748.8,856.7 752.7,857.3 756.7,857.9 760.6,858.5 764.6,859.2 768.5,859.8 772.5,860.5 776.4,861.1 780.4,861.8 784.3,862.4 788.3,863.1 792.2,863.7 796.2,864.4 800.1,865.1 804.0,865.8 808.0,866.5 811.9,867.2 815.8,868.0 819.7,868.8 823.7,869.6 827.6,870.5 831.5,871.3 835.4,872.2 839.3,873.1 843.2,874.0 847.1,874.9 851.0,875.8 854.9,876.7 858.8,877.6 862.7,878.5 866.6,879.4 870.5,880.3 874.4,881.1 878.3,882.0 882.2,882.8 886.1,883.6 890.0,884.4 893.9,885.2 897.9,885.9 901.8,886.7 905.7,887.3 909.7,888.0 913.6,888.7 917.6,889.3 921.5,890.0 925.5,890.7 929.4,891.3 933.4,892.0 937.3,892.7 941.2,893.4 945.2,894.1 949.1,894.8 953.0,895.6 957.0,896.3 960.9,897.0 964.8,897.7 968.8,898.5 972.7,899.2 976.6,900.0 980.6,900.7 984.5,901.5 988.4,902.3 992.3,903.0 996.3,903.8 1000.2,904.6 1004.1,905.4 1008.0,906.1 1012.0,906.9 1015.9,907.6 1019.8,908.3 1023.8,909.1 1027.7,909.8 1031.6,910.5 1035.6,911.2 1039.5,911.9 1043.4,912.6 1047.4,913.4 1051.3,914.1 1055.2,914.8 1059.2,915.5 1063.1,916.1 1067.1,916.8 1071.0,917.4 1075.0,918.1 1078.9,918.7 1082.9,919.3 1086.8,919.9 1090.8,920.6 1094.7,921.2 1098.7,921.8 1102.6,922.5 1106.6,923.2 1110.5,923.9 1114.4,924.6 1118.4,925.3 1122.3,926.1 1126.2,926.8 1130.2,927.6 1134.1,928.4 1138.0,929.2 1141.9,930.0 1145.8,930.8 1149.7,931.7 1153.6,932.6 1157.5,933.4 1161.4,934.3 1165.3,935.2 1169.2,936.1 1173.1,937.1 1177.0,938.0 1180.9,939.0 1184.8,939.9 1188.6,940.9 1192.5,941.9 1196.4,942.9 1200.3,943.9 1204.1,945.0 1208.0,946.0 1211.8,947.1 1215.7,948.2 1219.5,949.3 1223.4,950.5 1227.2,951.6 1231.0,952.9 1234.8,954.1 1238.6,955.3 1242.4,956.6 1246.2,957.9 1249.9,959.2 1253.7,960.6 1257.4,962.1 1261.1,963.7 1264.6,965.4 1268.1,967.4 1271.4,969.6 1274.6,972.0 1277.6,974.6 1280.4,977.4 1283.2,980.3 1285.8,983.3 1288.2,986.4 1290.4,989.8 1292.4,993.2 1294.2,996.7 1296.0,1000.3 1297.8,1003.9 1299.5,1007.5 1301.3,1011.1 1303.0,1014.7 1304.7,1018.3 1306.3,1022.0 1307.8,1025.7 1309.4,1029.4 1310.9,1033.1 1312.4,1036.8 1313.8,1040.5 1315.2,1044.2 1316.5,1048.0 1317.8,1051.8 1319.0,1055.6 1320.3,1059.4 1321.5,1063.2 1322.6,1067.1 1323.7,1070.9 1324.7,1074.8 1325.8,1078.6 1326.8,1082.5 1327.9,1086.4 1328.9,1090.2 1330.0,1094.1 1331.0,1097.9 1332.0,1101.8 1333.0,1105.7 1334.0,1109.6 1334.9,1113.4 1336.0,1117.3 1337.1,1121.2 1338.3,1125.0 1339.5,1128.8 1340.8,1132.5 1342.2,1136.3 1343.4,1140.1 1344.5,1143.9 1345.6,1147.8 1346.6,1151.7 1347.6,1155.5 1348.7,1159.4 1349.7,1163.3 1350.7,1167.1 1351.8,1171.0 1352.9,1174.8 1354.0,1178.7 1355.0,1182.5 1356.1,1186.4 1357.1,1190.3 1358.1,1194.1 1359.1,1198.0 1360.1,1201.9 1361.2,1205.7 1362.3,1209.6 1363.4,1213.4 1364.5,1217.2 1365.7,1221.1 1366.8,1224.9 1367.9,1228.8 1369.0,1232.6 1370.1,1236.5 1371.2,1240.3 1372.4,1244.1 1373.5,1248.0 1374.6,1251.8 1375.8,1255.6 1376.9,1259.5 1378.0,1263.3 1379.1,1267.2 1380.3,1271.0 1381.4,1274.8 1382.6,1278.6 1383.8,1282.5 1385.0,1286.3 1386.4,1290.0 1387.8,1293.7 1389.3,1297.4 1390.9,1301.1 1392.4,1304.8 1393.9,1308.5 1395.4,1312.2 1396.9,1316.0 1398.4,1319.7 1399.9,1323.4 1401.4,1327.1 1402.9,1330.8 1404.4,1334.5 1406.1,1338.1 1407.9,1341.7 1409.7,1345.2 1411.5,1348.8 1413.3,1352.4 1415.2,1355.9 1417.0,1359.4 1418.9,1363.0 1420.7,1366.6 1422.5,1370.1 1424.4,1373.6 1426.5,1377.0 1428.7,1380.4 1431.0,1383.6 1433.5,1386.7 1436.1,1389.8 1438.7,1392.8 1441.5,1395.7 1444.2,1398.6 1447.0,1401.4 1449.8,1404.3 1452.5,1407.2 1455.2,1410.2 1458.0,1413.1 1460.8,1415.8 1463.8,1418.4 1467.0,1420.9 1470.2,1423.2 1473.4,1425.6 1476.6,1427.9 1479.8,1430.2 1483.2,1432.4 1486.7,1434.3 1490.2,1436.2 1493.8,1438.0 1497.3,1439.8 1500.9,1441.5 1504.5,1443.3 1508.1,1445.0 1511.8,1446.7 1515.4,1448.3 1519.1,1449.8 1522.9,1451.2 1526.6,1452.6 1530.4,1453.9 1534.2,1455.1 1538.0,1456.3 1541.9,1457.5 1545.7,1458.6 1549.5,1459.7 1553.4,1460.8 1557.2,1461.9 1561.1,1462.9 1565.0,1463.8 1568.9,1464.7 1572.8,1465.5 1576.7,1466.3 1580.7,1467.1 1584.6,1467.9 1588.5,1468.6 1592.5,1469.3 1596.4,1470.0 1600.3,1470.8 1604.2,1471.5 1608.2,1472.3 1612.1,1473.0 1616.0,1473.8 1620.0,1474.5 1623.9,1475.3 1627.8,1476.0 1631.8,1476.7 1635.7,1477.4 1639.6,1478.1 1643.6,1478.8 1647.5,1479.5 1651.5,1480.2 1655.4,1480.9 1659.3,1481.6 1663.3,1482.2 1667.2,1482.9 1671.2,1483.5 1675.1,1484.1 1679.1,1484.7 1683.0,1485.3 1687.0,1485.9 1690.9,1486.5 1694.9,1487.1 1698.9,1487.7 1702.8,1488.3 1706.8,1488.9 1710.7,1489.5 1714.7,1490.1 1718.6,1490.7 1722.6,1491.3 1726.6,1491.8 1730.5,1492.4 1734.5,1493.0 1738.4,1493.5 1742.4,1494.1 1746.4,1494.6 1750.3,1495.1 1754.3,1495.6 1758.3,1496.0 1762.3,1496.5 1766.2,1496.9 1770.2,1497.4 1774.2,1497.8 1778.1,1498.3 1782.1,1498.7 1786.1,1499.2 1790.1,1499.7 1794.0,1500.1 1798.0,1500.6 1802.0,1501.1 1806.0,1501.5 1809.9,1502.0 1813.9,1502.5 1817.9,1503.0 1821.8,1503.6 1825.8,1504.1 1829.8,1504.6 1833.7,1505.1 1837.7,1505.6 1841.7,1506.1 1845.6,1506.6 1849.6,1507.1 1853.6,1507.6 1857.5,1508.1 1861.5,1508.6 1865.5,1509.1 1869.4,1509.6 1873.4,1510.1 1877.4,1510.6 1881.4,1511.1 1885.3,1511.6 1889.3,1512.1 1893.3,1512.6 1897.2,1513.1 1901.2,1513.5 1905.2,1514.0 1909.2,1514.5 1913.1,1514.9 1917.1,1515.4 1921.1,1515.9 1925.0,1516.3 1929.0,1516.8 1933.0,1517.2 1937.0,1517.7 1940.9,1518.1 1944.9,1518.6 1948.9,1519.1 1952.9,1519.5 1956.8,1520.0 1960.8,1520.5 1964.8,1521.1 1968.7,1521.6 1972.7,1522.1 1976.7,1522.6 1980.6,1523.1 1984.6,1523.7 1988.6,1524.2 1992.5,1524.7 1996.5,1525.2 2000.5,1525.7 2004.4,1526.2 2008.4,1526.7 2012.4,1527.3 2016.3,1527.8 2020.3,1528.4 2024.2,1528.9 2028.2,1529.5 2032.2,1530.0 2036.1,1530.6 2040.1,1531.2 2044.0,1531.7 2048.0,1532.3 2052.0,1532.8 2055.9,1533.4 2059.9,1534.0 2063.8,1534.5 2067.8,1535.1 2071.8,1535.7 2075.7,1536.2 2079.7,1536.8 2083.6,1537.4 2087.6,1537.9 2091.6,1538.5 2095.5,1539.1 2099.5,1539.7 2103.4,1540.3 2107.4,1540.8 2111.3,1541.4 2115.3,1542.0 2119.3,1542.6 2123.2,1543.3 2127.2,1543.9 2131.1,1544.5 2135.0,1545.2 2138.9,1545.8 2142.6,1546.5 2145.0,1547.0" stroke="#ff8000" stroke-width="7"/>
<polyline points="360.0,1561.0 420.0,1561.0 480.0,1562.5 560.0,1563.0 640.0,1565.0 700.0,1565.0" stroke="#000" stroke-width="7" stroke-dasharray="25 25" stroke-dashoffset="7.0"/>
<polyline points="700.0,1565.0 750.0,1565.0 850.0,1563.0 950.0,1562.0 1050.0,1561.0 1100.0,1560.5 1150.0,1558.2" stroke="#000" stroke-width="7" stroke-dasharray="25 25" stroke-dashoffset="44.5"/>
<polyline points="1150.0,1558.2 1155.0,1558.0 1180.0,1556.0 1205.0,1553.0 1225.7,1550.0 1255.0,1545.0 1275.7,1535.0 1290.0,1514.3 1307.1,1492.1 1322.1,1469.7 1343.6,1469.7 1358.6,1492.1 1378.6,1510.7 1398.0,1532.0 1420.0,1545.0 1430.0,1548.7" stroke="#000" stroke-width="7" stroke-dasharray="25 25" stroke-dashoffset="44.0"/>
<polyline points="1430.0,1548.7 1450.0,1556.0 1495.0,1562.0 1550.0,1566.0 1650.0,1569.0 1740.0,1569.0 1770.0,1567.8 1800.0,1567.5 1972.0,1567.5 1995.0,1572.5 2145.0,1573.0" stroke="#000" stroke-width="7" stroke-dasharray="25 25" stroke-dashoffset="32.5"/>
<polyline points="360.0,1558.0 600.0,1559.0 700.0,1560.0" stroke="#f00" stroke-width="7" stroke-dasharray="25 25" stroke-dashoffset="0.5"/>
<polyline points="700.0,1560.0 700.0,1560.0 800.0,1561.0 900.0,1560.0 1000.0,1559.0 1100.0,1558.0 1150.0,1557.2" stroke="#f00" stroke-width="7" stroke-dasharray="25 25" stroke-dashoffset="41.0"/>
<polyline points="1150.0,1557.2 1160.0,1557.0 1200.0,1553.0 1262.0,1546.0 1283.0,1543.0 1301.4,1528.6 1321.4,1513.6 1334.0,1501.5 1347.9,1502.9 1368.6,1517.9 1390.0,1531.0 1412.0,1541.0 1430.0,1549.5" stroke="#f00" stroke-width="7" stroke-dasharray="25 25" stroke-dashoffset="36.5"/>
<polyline points="1430.0,1549.5 1436.3,1552.5 1461.0,1559.0 1505.0,1564.0 1555.0,1567.0 1605.0,1569.5 1740.0,1569.5 1775.0,1572.5 1900.0,1573.0 2145.0,1573.0" stroke="#f00" stroke-width="7" stroke-dasharray="25 25" stroke-dashoffset="42.5"/>
<polyline points="360.0,1544.0 380.0,1545.0 405.0,1544.0 420.0,1548.0 465.0,1548.0 480.0,1556.0 488.6,1561.0 502.0,1545.0 508.0,1547.0" stroke="#00f" stroke-width="7" stroke-dasharray="25 25" stroke-dashoffset="6.5"/>
<polyline points="508.0,1547.0 520.0,1551.0 590.0,1554.0 630.0,1551.0 700.0,1551.0" stroke="#00f" stroke-width="7" stroke-dasharray="25 25" stroke-dashoffset="41.0"/>
<polyline points="700.0,1551.0 700.0,1551.0 800.0,1552.0 900.0,1556.0 1000.0,1558.0 1100.0,1559.0 1150.0,1560.3" stroke="#00f" stroke-width="7" stroke-dasharray="25 25" stroke-dashoffset="34.0"/>
<polyline points="1150.0,1560.3 1175.0,1561.0 1230.0,1553.0 1285.0,1548.0 1315.7,1528.6 1332.1,1520.7 1345.0,1510.0 1358.6,1507.1 1378.6,1517.1 1400.0,1533.0 1424.0,1546.0 1430.0,1548.6" stroke="#00f" stroke-width="7" stroke-dasharray="25 25" stroke-dashoffset="29.5"/>
<polyline points="1430.0,1548.6 1447.0,1556.0 1472.0,1562.0 1510.0,1566.0 1555.0,1569.0 1600.0,1570.5 1740.0,1570.5 1780.0,1573.0 2145.0,1573.5" stroke="#00f" stroke-width="7" stroke-dasharray="25 25" stroke-dashoffset="31.0"/>
<polyline points="360.0,1555.0 700.0,1555.0" stroke="#ff8000" stroke-width="7" stroke-dasharray="25 25" stroke-dashoffset="3.5"/>
<polyline points="700.0,1555.0 700.0,1555.0 800.0,1555.0 900.0,1554.0 1000.0,1554.0 1100.0,1554.0 1150.0,1554.8" stroke="#ff8000" stroke-width="7" stroke-dasharray="25 25" stroke-dashoffset="41.0"/>
<polyline points="1150.0,1554.8 1160.0,1555.0 1230.0,1551.0 1258.0,1550.0 1283.0,1549.0 1305.0,1539.3 1328.6,1527.9 1342.0,1520.0 1355.0,1521.4 1378.6,1528.6 1391.0,1535.0 1416.0,1546.0 1430.0,1549.7" stroke="#ff8000" stroke-width="7" stroke-dasharray="25 25" stroke-dashoffset="41.5"/>
<polyline points="1430.0,1549.7 1450.0,1555.0 1475.0,1560.0 1505.0,1563.0 1555.0,1567.0 1605.0,1569.5 1740.0,1569.5 1775.0,1572.5 2145.0,1572.5" stroke="#ff8000" stroke-width="7" stroke-dasharray="25 25" stroke-dashoffset="28.5"/>
</g>
<g fill="#000">
<rect x="356.5" y="48" width="1792.5" height="7"/>
<rect x="356.5" y="1594.5" width="1792.5" height="7"/>
<rect x="356.5" y="48" width="7" height="1553.5"/>
<rect x="2142" y="48" width="7" height="1553.5"/>
<rect x="331" y="1573.09" width="26" height="7"/>
<rect x="345.5" y="1529.52" width="11.5" height="7"/>
<rect x="345.5" y="1485.94" width="11.5" height="7"/>
<rect x="345.5" y="1442.37" width="11.5" height="7"/>
<rect x="345.5" y="1398.79" width="11.5" height="7"/>
<rect x="331" y="1355.22" width="26" height="7"/>
<rect x="345.5" y="1311.65" width="11.5" height="7"/>
<rect x="345.5" y="1268.07" width="11.5" height="7"/>
<rect x="345.5" y="1224.50" width="11.5" height="7"/>
<rect x="345.5" y="1180.92" width="11.5" height="7"/>
<rect x="331" y="1137.35" width="26" height="7"/>
<rect x="345.5" y="1093.78" width="11.5" height="7"/>
<rect x="345.5" y="1050.20" width="11.5" height="7"/>
<rect x="345.5" y="1006.63" width="11.5" height="7"/>
<rect x="345.5" y="963.05" width="11.5" height="7"/>
<rect x="331" y="919.48" width="26" height="7"/>
<rect x="345.5" y="875.91" width="11.5" height="7"/>
<rect x="345.5" y="832.33" width="11.5" height="7"/>
<rect x="345.5" y="788.76" width="11.5" height="7"/>
<rect x="345.5" y="745.18" width="11.5" height="7"/>
<rect x="331" y="701.61" width="26" height="7"/>
<rect x="345.5" y="658.04" width="11.5" height="7"/>
<rect x="345.5" y="614.46" width="11.5" height="7"/>
<rect x="345.5" y="570.89" width="11.5" height="7"/>
<rect x="345.5" y="527.31" width="11.5" height="7"/>
<rect x="331" y="483.74" width="26" height="7"/>
<rect x="345.5" y="440.17" width="11.5" height="7"/>
<rect x="345.5" y="396.59" width="11.5" height="7"/>
<rect x="345.5" y="353.02" width="11.5" height="7"/>
<rect x="345.5" y="309.44" width="11.5" height="7"/>
<rect x="331" y="265.87" width="26" height="7"/>
<rect x="345.5" y="222.30" width="11.5" height="7"/>
<rect x="345.5" y="178.72" width="11.5" height="7"/>
<rect x="345.5" y="135.15" width="11.5" height="7"/>
<rect x="345.5" y="91.57" width="11.5" height="7"/>
<rect x="331" y="48.00" width="26" height="7"/>
<rect x="356.50" y="1601.5" width="7" height="28.5"/>
<rect x="407.50" y="1601.5" width="7" height="14"/>
<rect x="407.50" y="55" width="7" height="12"/>
<rect x="458.50" y="1601.5" width="7" height="14"/>
<rect x="458.50" y="55" width="7" height="12"/>
<rect x="509.50" y="1601.5" width="7" height="14"/>
<rect x="509.50" y="55" width="7" height="12"/>
<rect x="560.50" y="1601.5" width="7" height="14"/>
<rect x="560.50" y="55" width="7" height="12"/>
<rect x="613.25" y="1601.5" width="7" height="28.5"/>
<rect x="613.25" y="55" width="7" height="25"/>
<rect x="662.76" y="1601.5" width="7" height="14"/>
<rect x="662.76" y="55" width="7" height="12"/>
<rect x="714.02" y="1601.5" width="7" height="14"/>
<rect x="714.02" y="55" width="7" height="12"/>
<rect x="765.28" y="1601.5" width="7" height="14"/>
<rect x="765.28" y="55" width="7" height="12"/>
<rect x="816.54" y="1601.5" width="7" height="14"/>
<rect x="816.54" y="55" width="7" height="12"/>
<rect x="869.55" y="1601.5" width="7" height="28.5"/>
<rect x="869.55" y="55" width="7" height="25"/>
<rect x="918.42" y="1601.5" width="7" height="14"/>
<rect x="918.42" y="55" width="7" height="12"/>
<rect x="969.04" y="1601.5" width="7" height="14"/>
<rect x="969.04" y="55" width="7" height="12"/>
<rect x="1019.66" y="1601.5" width="7" height="14"/>
<rect x="1019.66" y="55" width="7" height="12"/>
<rect x="1070.28" y="1601.5" width="7" height="14"/>
<rect x="1070.28" y="55" width="7" height="12"/>
<rect x="1122.65" y="1601.5" width="7" height="28.5"/>
<rect x="1122.65" y="55" width="7" height="25"/>
<rect x="1172.16" y="1601.5" width="7" height="14"/>
<rect x="1172.16" y="55" width="7" height="12"/>
<rect x="1223.42" y="1601.5" width="7" height="14"/>
<rect x="1223.42" y="55" width="7" height="12"/>
<rect x="1274.68" y="1601.5" width="7" height="14"/>
<rect x="1274.68" y="55" width="7" height="12"/>
<rect x="1325.94" y="1601.5" width="7" height="14"/>
<rect x="1325.94" y="55" width="7" height="12"/>
<rect x="1378.95" y="1601.5" width="7" height="28.5"/>
<rect x="1378.95" y="55" width="7" height="25"/>
<rect x="1428.60" y="1601.5" width="7" height="14"/>
<rect x="1428.60" y="55" width="7" height="12"/>
<rect x="1480.00" y="1601.5" width="7" height="14"/>
<rect x="1480.00" y="55" width="7" height="12"/>
<rect x="1531.40" y="1601.5" width="7" height="14"/>
<rect x="1531.40" y="55" width="7" height="12"/>
<rect x="1582.80" y="1601.5" width="7" height="14"/>
<rect x="1582.80" y="55" width="7" height="12"/>
<rect x="1635.95" y="1601.5" width="7" height="28.5"/>
<rect x="1635.95" y="55" width="7" height="25"/>
<rect x="1684.82" y="1601.5" width="7" height="14"/>
<rect x="1684.82" y="55" width="7" height="12"/>
<rect x="1735.44" y="1601.5" width="7" height="14"/>
<rect x="1735.44" y="55" width="7" height="12"/>
<rect x="1786.06" y="1601.5" width="7" height="14"/>
<rect x="1786.06" y="55" width="7" height="12"/>
<rect x="1836.68" y="1601.5" width="7" height="14"/>
<rect x="1836.68" y="55" width="7" height="12"/>
<rect x="1889.05" y="1601.5" width="7" height="28.5"/>
<rect x="1889.05" y="55" width="7" height="25"/>
<rect x="1938.24" y="1601.5" width="7" height="14"/>
<rect x="1938.24" y="55" width="7" height="12"/>
<rect x="1989.18" y="1601.5" width="7" height="14"/>
<rect x="1989.18" y="55" width="7" height="12"/>
<rect x="2040.12" y="1601.5" width="7" height="14"/>
<rect x="2040.12" y="55" width="7" height="12"/>
<rect x="2091.06" y="1601.5" width="7" height="14"/>
<rect x="2091.06" y="55" width="7" height="12"/>
<rect x="2142.00" y="1601.5" width="7" height="28.5"/>
</g>
<text transform="translate(312.4 1594.1) scale(0.962 1)" font-family="Liberation Sans, Arial, sans-serif" font-size="65" text-anchor="end">0</text>
<text transform="translate(312.4 1376.2) scale(0.962 1)" font-family="Liberation Sans, Arial, sans-serif" font-size="65" text-anchor="end">500</text>
<text transform="translate(312.4 1158.4) scale(0.962 1)" font-family="Liberation Sans, Arial, sans-serif" font-size="65" text-anchor="end">1000</text>
<text transform="translate(312.4 940.5) scale(0.962 1)" font-family="Liberation Sans, Arial, sans-serif" font-size="65" text-anchor="end">1500</text>
<text transform="translate(312.4 722.6) scale(0.962 1)" font-family="Liberation Sans, Arial, sans-serif" font-size="65" text-anchor="end">2000</text>
<text transform="translate(312.4 504.7) scale(0.962 1)" font-family="Liberation Sans, Arial, sans-serif" font-size="65" text-anchor="end">2500</text>
<text transform="translate(312.4 286.9) scale(0.962 1)" font-family="Liberation Sans, Arial, sans-serif" font-size="65" text-anchor="end">3000</text>
<text transform="translate(312.4 69.0) scale(0.962 1)" font-family="Liberation Sans, Arial, sans-serif" font-size="65" text-anchor="end">3500</text>
<text transform="translate(311.1 1697) scale(0.962 1)" font-family="Liberation Sans, Arial, sans-serif" font-size="65">-50</text>
<text transform="translate(598.8 1697) scale(0.962 1)" font-family="Liberation Sans, Arial, sans-serif" font-size="65">0</text>
<text transform="translate(835.2 1697) scale(0.962 1)" font-family="Liberation Sans, Arial, sans-serif" font-size="65">50</text>
<text transform="translate(1072.2 1697) scale(0.962 1)" font-family="Liberation Sans, Arial, sans-serif" font-size="65">100</text>
<text transform="translate(1330.0 1697) scale(0.962 1)" font-family="Liberation Sans, Arial, sans-serif" font-size="65">150</text>
<text transform="translate(1580.8 1697) scale(0.962 1)" font-family="Liberation Sans, Arial, sans-serif" font-size="65">200</text>
<text transform="translate(1837.0 1697) scale(0.962 1)" font-family="Liberation Sans, Arial, sans-serif" font-size="65">250</text>
<text transform="translate(2095.4 1697) scale(0.962 1)" font-family="Liberation Sans, Arial, sans-serif" font-size="65">300</text>
<text transform="translate(963.4 1822.5) scale(0.8538 1)" font-family="Liberation Sans, Arial, sans-serif" font-size="88">Temperature</text>
<text transform="translate(1410.9 1822.5) scale(0.8698 1)" font-family="Liberation Sans, Arial, sans-serif" font-size="88">/ °C</text>
<text transform="translate(92.5 1193.4) rotate(-90) scale(0.9095 1)" font-family="Liberation Sans, Arial, sans-serif" font-size="88">Tensile Modulus / MPa</text>
<rect x="1491.5" y="131.9" width="595.3" height="801.5" fill="#fff" stroke="#000" stroke-width="3.5"/>
<line x1="1500" y1="185" x2="1670" y2="185" stroke="#000" stroke-width="3.5"/>
<text transform="translate(1687.0 211.5) scale(0.8558 1)" font-family="Liberation Sans, Arial, sans-serif" font-size="88">E' Filament</text>
<line x1="1500" y1="283.4" x2="1670" y2="283.4" stroke="#f00" stroke-width="7"/>
<text transform="translate(1686.9 310.4) scale(0.8694 1)" font-family="Liberation Sans, Arial, sans-serif" font-size="88">E' XY</text>
<line x1="1500" y1="382.3" x2="1670" y2="382.3" stroke="#00f" stroke-width="7"/>
<text transform="translate(1686.9 408.0) scale(0.8793 1)" font-family="Liberation Sans, Arial, sans-serif" font-size="88">E' XZ</text>
<line x1="1500" y1="482" x2="1670" y2="482" stroke="#ff8000" stroke-width="7"/>
<text transform="translate(1686.8 506.8) scale(0.8892 1)" font-family="Liberation Sans, Arial, sans-serif" font-size="88">E' Z</text>
<line x1="1500" y1="581.5" x2="1670" y2="581.5" stroke="#000" stroke-width="7" stroke-dasharray="25.7 24.5"/>
<text transform="translate(1687.0 607.1) scale(0.8564 1)" font-family="Liberation Sans, Arial, sans-serif" font-size="88">E&quot; Filament</text>
<line x1="1500" y1="679.6" x2="1670" y2="679.6" stroke="#f00" stroke-width="7" stroke-dasharray="25.7 24.5"/>
<text transform="translate(1686.9 706.0) scale(0.8791 1)" font-family="Liberation Sans, Arial, sans-serif" font-size="88">E&quot; XY</text>
<line x1="1500" y1="779" x2="1670" y2="779" stroke="#00f" stroke-width="7" stroke-dasharray="25.7 24.5"/>
<text transform="translate(1686.8 805.8) scale(0.8890 1)" font-family="Liberation Sans, Arial, sans-serif" font-size="88">E&quot; XZ</text>
<line x1="1500" y1="878.1" x2="1670" y2="878.1" stroke="#ff8000" stroke-width="7" stroke-dasharray="25.7 24.5"/>
<text transform="translate(1686.7 902.3) scale(0.9016 1)" font-family="Liberation Sans, Arial, sans-serif" font-size="88">E&quot; Z</text>
</svg>
</body></html>
